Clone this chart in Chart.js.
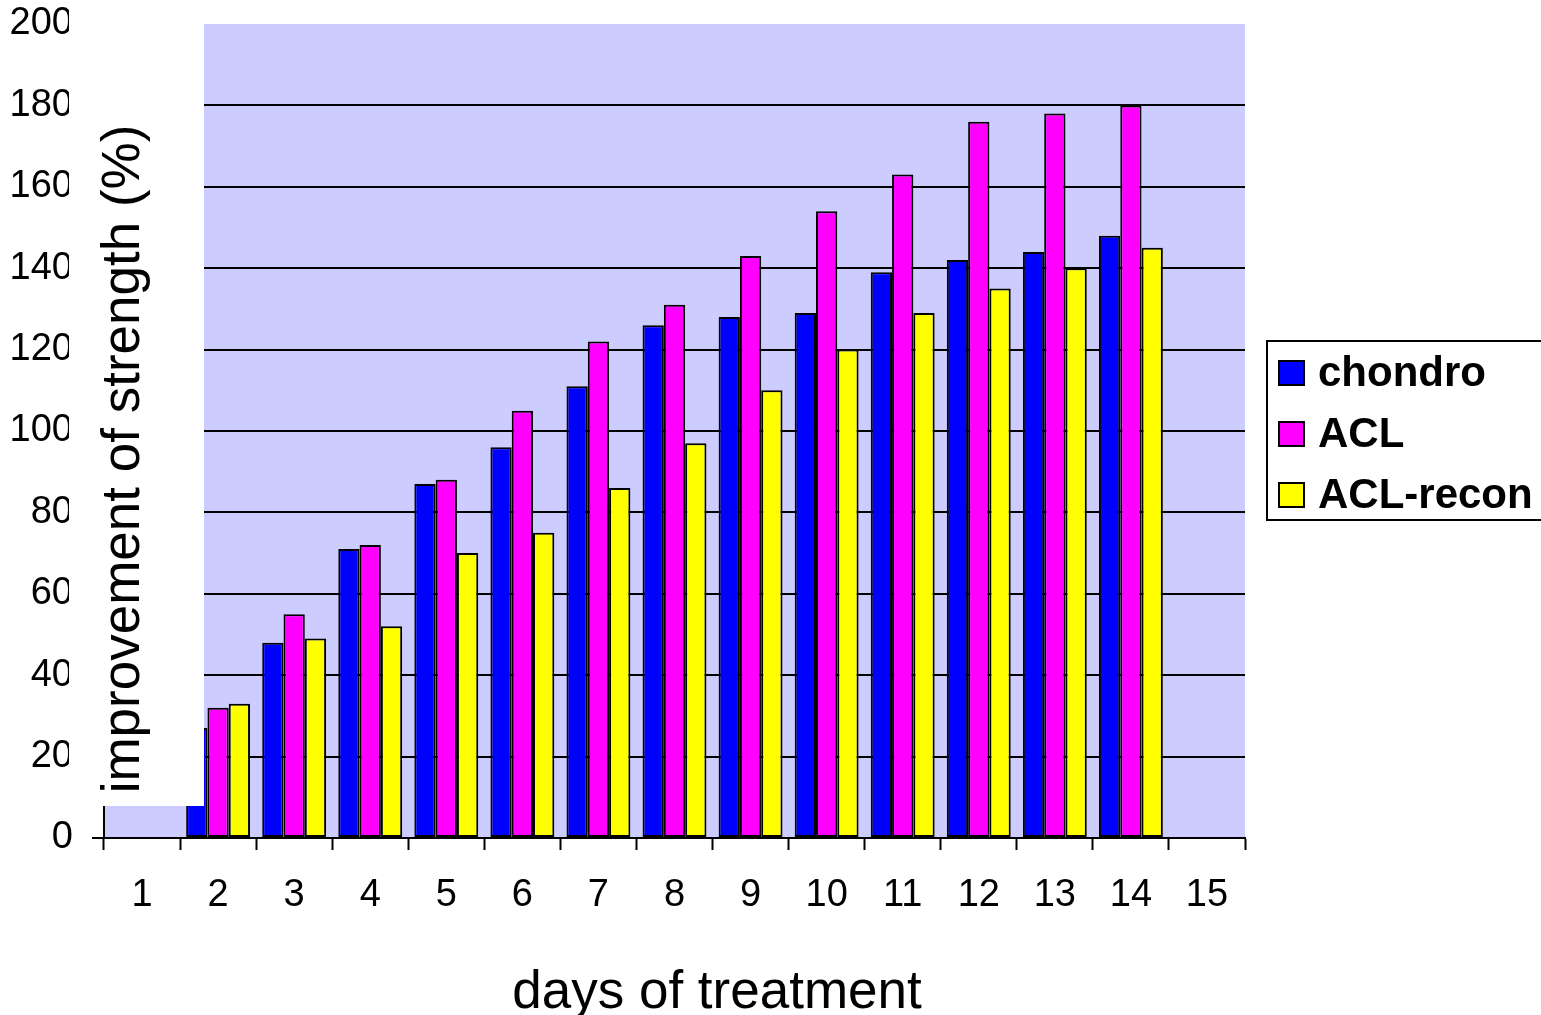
<!DOCTYPE html>
<html>
<head>
<meta charset="utf-8">
<title>improvement of strength</title>
<script src="https://cdn.jsdelivr.net/npm/chart.js@4/dist/chart.umd.min.js"></script>
<style>
  html, body { margin: 0; padding: 0; background: #fff; }
  #wrap { width: 1541px; height: 1015px; }
</style>
</head>
<body>
<div id="wrap"><canvas id="c" width="1541" height="1015"></canvas></div>
<script>
// days of treatment
const days = ['1', '2', '3', '4', '5', '6', '7', '8', '9', '10', '11', '12', '13', '14', '15'];

// improvement of strength (%) per group
const chondro  = [null, 27, 48, 71, 87, 96, 111, 126, 128, 129, 139, 142, 144, 148, null];
const acl      = [null, 32, 55, 72, 88, 105, 122, 131, 143, 154, 163, 176, 178, 180, null];
const aclRecon = [null, 33, 49, 52, 70, 75, 86, 97, 110, 120, 129, 135, 140, 145, null];

const seriesNames = ['chondro', 'ACL', 'ACL-recon'];
const yTicks = [0, 20, 40, 60, 80, 100, 120, 140, 160, 180, 200];

const xTitle = 'days of treatment';
const yTitle = 'improvement of strength (%)';

const FONT = '"Liberation Sans", Arial, Helvetica, sans-serif';

// lavender plot background
const plotBackground = {
  id: 'plotBackground',
  beforeDraw(chart) {
    const { ctx, chartArea: a } = chart;
    ctx.save();
    ctx.fillStyle = '#CCCCFF';
    ctx.fillRect(a.left, a.top, a.right - a.left, a.bottom - a.top);
    ctx.restore();
  }
};

// axis titles (the vertical one sits on a white box) and the legend box
const decorations = {
  id: 'decorations',
  afterDatasetsDraw(chart) {
    const { ctx } = chart;
    ctx.save();

    // white box behind the vertical title
    ctx.fillStyle = '#ffffff';
    ctx.fillRect(69, 0, 204 - 69, 806);

    ctx.fillStyle = '#000';
    ctx.font = '53px ' + FONT;
    ctx.textBaseline = 'alphabetic';
    ctx.textAlign = 'center';

    // vertical title
    ctx.save();
    ctx.translate(139, 459);
    ctx.rotate(-Math.PI / 2);
    ctx.fillText(yTitle, 0, 0);
    ctx.restore();

    // horizontal title
    ctx.fillText(xTitle, 717, 1008);

    // legend
    const lx = 1267, ly = 341, lw = 290, lh = 179;
    ctx.fillStyle = '#fff';
    ctx.fillRect(lx, ly, lw, lh);
    ctx.strokeStyle = '#000';
    ctx.lineWidth = 2;
    ctx.strokeRect(lx, ly, lw, lh);

    ctx.font = 'bold 42px ' + FONT;
    ctx.textAlign = 'left';
    chart.data.datasets.forEach((ds, i) => {
      const baseY = 386 + i * 61;
      ctx.fillStyle = ds.backgroundColor;
      ctx.fillRect(1279, baseY - 25, 25, 24);
      ctx.strokeStyle = '#000';
      ctx.lineWidth = 2;
      ctx.strokeRect(1279, baseY - 25, 25, 24);
      ctx.fillStyle = '#000';
      ctx.fillText(ds.label, 1318, baseY);
    });

    ctx.restore();
  }
};

const barStyle = { borderColor: '#000', borderWidth: 2, borderSkipped: false };

new Chart(document.getElementById('c'), {
  type: 'bar',
  data: {
    labels: days,
    datasets: [
      { label: seriesNames[0], data: chondro,  backgroundColor: '#0000FF', ...barStyle },
      { label: seriesNames[1], data: acl,      backgroundColor: '#FF00FF', ...barStyle },
      { label: seriesNames[2], data: aclRecon, backgroundColor: '#FFFF00', ...barStyle }
    ]
  },
  options: {
    responsive: false,
    animation: false,
    devicePixelRatio: 1,
    layout: { padding: { top: 24, right: 296, left: 0, bottom: 0 } },
    datasets: { bar: { categoryPercentage: 0.84, barPercentage: 1.0 } },
    plugins: {
      legend: { display: false },
      tooltip: { enabled: false },
      title: { display: false }
    },
    scales: {
      x: {
        grid: {
          offset: true,
          drawOnChartArea: false,
          drawTicks: true,
          tickLength: 12,
          tickColor: '#000',
          tickWidth: 2
        },
        border: { display: true, color: '#000', width: 2 },
        ticks: {
          color: '#000',
          font: { family: FONT, size: 38 },
          padding: 23,
          maxRotation: 0,
          autoSkip: false
        },
        afterFit(scale) {
          scale.height = 1015 - 838;
          scale.paddingLeft = 0;
          scale.paddingRight = 0;
        }
      },
      y: {
        min: 0,
        max: 200,
        afterBuildTicks(scale) { scale.ticks = yTicks.map(v => ({ value: v })); },
        grid: {
          color: ctx => (ctx.tick && ctx.tick.value === 200) ? 'rgba(0,0,0,0)' : '#000',
          lineWidth: 2,
          drawTicks: true,
          tickLength: 12,
          tickColor: '#000',
          tickWidth: 2
        },
        border: { display: true, color: '#000', width: 2 },
        ticks: {
          color: '#000',
          font: { family: FONT, size: 38 },
          padding: 19
        },
        afterFit(scale) {
          scale.width = 104;
          scale.paddingTop = 0;
          scale.paddingBottom = 0;
        }
      }
    }
  },
  plugins: [plotBackground, decorations]
});
</script>
</body>
</html>
